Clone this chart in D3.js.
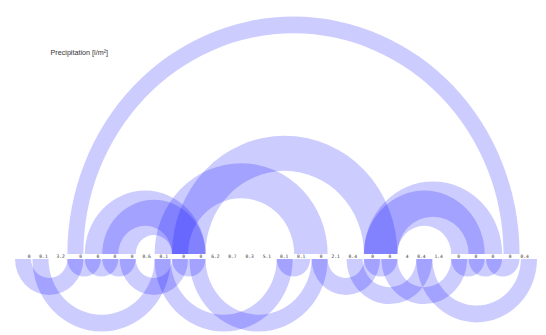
<!DOCTYPE html>
<html><head><meta charset="utf-8">
<script src="https://cdn.jsdelivr.net/npm/d3@7"></script>
<style>body{margin:0;background:#fff}svg{display:block}</style>
</head><body>
<script>
const values = [0,0.1,3.2,0,0,0,0,0.6,0.1,0,0,6.2,0.7,0.3,5.1,0.1,0.1,0,2.1,0.4,0,0,4,0.4,1.4,0,0,0,0,0.4];
const labels = ["0","0.1","3.2","0","0","0","0","0.6","0.1","0","0","6.2","0.7","0.3","5.1","0.1","0.1","0","2.1","0.4","0","0","4","0.4","1.4","0","0","0","0","0.4"];
// repeated passages linked above the axis: first start, second start, length (days)
const aboveFrom = [3, 4, 5, 20, 20, 8, 9];
const aboveTo   = [28, 9, 9, 25, 26, 16, 20];
const aboveLen  = [1, 2, 2, 2, 2, 2, 2];

const W=546,H=335;
const svg=d3.select("body").append("svg").attr("width",W).attr("height",H);
const days=d3.range(values.length);
const x=d3.scaleBand().domain(days).range([15,537]).paddingInner(0.08);
const xl=d3.scalePoint().domain(days).range([30.5,528.7]);
const yUp=254, yDown=259, k=1.05;

// below: each day linked to the next day with the same value
const below=[];
days.forEach(i=>{ for(let j=i+1;j<values.length;j++){ if(values[j]===values[i]){below.push({a:i,b:j,len:1});break;} } });
const above=aboveFrom.map((a,i)=>({a:a,b:aboveTo[i],len:aboveLen[i]}));

function ringPath(d,up){
  const x1=x(d.a), x2=x(d.a+d.len-1)+x.bandwidth();
  const x3=x(d.b), x4=x(d.b+d.len-1)+x.bandwidth();
  const cx=(x1+x4)/2, ro=(x4-x1)/2, ri=Math.max(0,(x3-x2)/2);
  const a=d3.arc().innerRadius(ri).outerRadius(ro)
    .startAngle(up?-Math.PI/2:Math.PI/2).endAngle(up?Math.PI/2:Math.PI*1.5);
  return {cx,p:a()};
}
const g=svg.append("g");
g.selectAll(".up").data(above).join("path").attr("class","up")
  .attr("transform",d=>`translate(${ringPath(d,true).cx},${yUp}) scale(1,${k})`)
  .attr("d",d=>ringPath(d,true).p).attr("fill","blue").attr("fill-opacity",0.2);
g.selectAll(".dn").data(below).join("path").attr("class","dn")
  .attr("transform",d=>`translate(${ringPath(d,false).cx},${yDown}) scale(1,${k})`)
  .attr("d",d=>ringPath(d,false).p).attr("fill","blue").attr("fill-opacity",0.2);

svg.append("g").selectAll("text").data(days).join("text")
  .attr("x",d=>xl(d)).attr("y",258.3).attr("text-anchor","end")
  .attr("font-family","DejaVu Sans Mono, monospace").attr("font-size",4.6).attr("fill","#333")
  .text(d=>labels[d]);

svg.append("text").attr("x",50.5).attr("y",54.5)
  .attr("font-family","Liberation Sans, Arial, sans-serif").attr("font-size",7.2).attr("fill","#333")
  .text("Precipitation [l/m²]");
</script>
</body></html>
